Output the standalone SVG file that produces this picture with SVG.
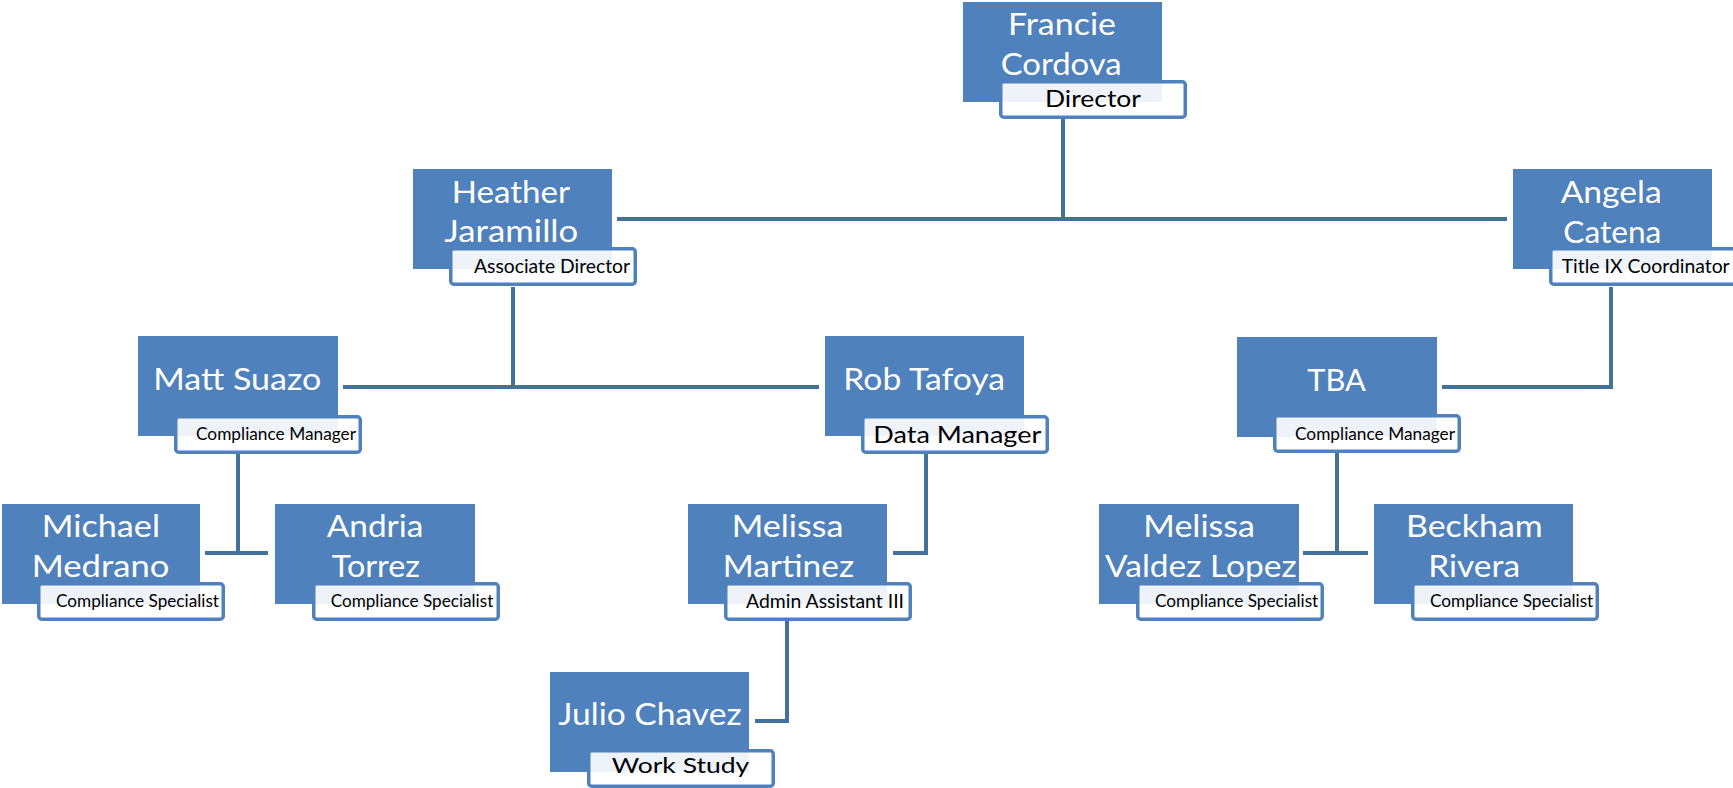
<svg xmlns="http://www.w3.org/2000/svg" width="1733" height="788" viewBox="0 0 1733 788">
<style>
.box{fill:#4F81BD}
.lab{fill:#FFFFFF;fill-opacity:0.9;stroke:#4F81BD;stroke-width:3.5}
.nm{font-family:Lato,"Open Sans",sans-serif;font-size:31.5px;fill:#FFFFFF}
.tt{font-family:Lato,"Open Sans",sans-serif;fill:#000000}
.con{fill:none;stroke:#41719C;stroke-width:4}
</style>
<rect width="1733" height="788" fill="#FFFFFF"/>
<g id="connectors">
<path class="con" d="M1063,119 V219 M617,219 H1507"/>
<path class="con" d="M513,287 V387 M343,387 H819"/>
<path class="con" d="M238,454 V553 M205,553 H268"/>
<path class="con" d="M926,454 V553 H893"/>
<path class="con" d="M787,620 V721 H755"/>
<path class="con" d="M1611,287 V387 H1442"/>
<path class="con" d="M1337,453 V553 M1303,553 H1368"/>
</g>
<g id="francie">
<rect class="box" x="963" y="2" width="199" height="100"/>
<rect class="lab" x="1000.75" y="81.75" width="184.5" height="35.5" rx="3"/>
<text class="nm" x="1008" y="35" textLength="108" lengthAdjust="spacingAndGlyphs">Francie</text>
<text class="nm" x="1000.7" y="75" textLength="121" lengthAdjust="spacingAndGlyphs">Cordova</text>
<text class="tt" x="1045" y="106.7" font-size="23.5" textLength="96" lengthAdjust="spacingAndGlyphs">Director</text>
</g>
<g id="heather">
<rect class="box" x="413" y="169" width="199" height="100"/>
<rect class="lab" x="450.75" y="248.75" width="184.5" height="35.5" rx="3"/>
<text class="nm" x="451.7" y="203.3" textLength="118.3" lengthAdjust="spacingAndGlyphs">Heather</text>
<text class="nm" x="444.3" y="241.7" textLength="134" lengthAdjust="spacingAndGlyphs">Jaramillo</text>
<text class="tt" x="474" y="273.3" font-size="19" textLength="156" lengthAdjust="spacingAndGlyphs">Associate Director</text>
</g>
<g id="angela">
<rect class="box" x="1513" y="169" width="199" height="100"/>
<rect class="lab" x="1550.75" y="248.75" width="184.5" height="35.5" rx="3"/>
<text class="nm" x="1560.7" y="203.3" textLength="101" lengthAdjust="spacingAndGlyphs">Angela</text>
<text class="nm" x="1563.3" y="243.3" textLength="98" lengthAdjust="spacingAndGlyphs">Catena</text>
<text class="tt" x="1561.7" y="273.3" font-size="20" textLength="168" lengthAdjust="spacingAndGlyphs">Title IX Coordinator</text>
</g>
<g id="matt">
<rect class="box" x="138" y="336" width="200" height="100"/>
<rect class="lab" x="175.75" y="416.75" width="184.5" height="35.5" rx="3"/>
<text class="nm" x="153.3" y="390" textLength="168" lengthAdjust="spacingAndGlyphs">Matt Suazo</text>
<text class="tt" x="196" y="440" font-size="16.8" textLength="160" lengthAdjust="spacingAndGlyphs">Compliance Manager</text>
</g>
<g id="rob">
<rect class="box" x="825" y="336" width="199" height="100"/>
<rect class="lab" x="862.75" y="416.75" width="184.5" height="35.5" rx="3"/>
<text class="nm" x="843.3" y="390" textLength="161.7" lengthAdjust="spacingAndGlyphs">Rob Tafoya</text>
<text class="tt" x="873.3" y="442.7" font-size="23.5" textLength="168" lengthAdjust="spacingAndGlyphs">Data Manager</text>
</g>
<g id="tba">
<rect class="box" x="1237" y="337" width="200" height="100"/>
<rect class="lab" x="1274.75" y="415.75" width="184.5" height="35.5" rx="3"/>
<text class="nm" x="1307.3" y="390.7" textLength="58.7" lengthAdjust="spacingAndGlyphs">TBA</text>
<text class="tt" x="1295" y="440" font-size="16.8" textLength="160" lengthAdjust="spacingAndGlyphs">Compliance Manager</text>
</g>
<g id="michael">
<rect class="box" x="2" y="504" width="198" height="100"/>
<rect class="lab" x="38.75" y="583.75" width="184.5" height="35.5" rx="3"/>
<text class="nm" x="41.7" y="536.7" textLength="118.3" lengthAdjust="spacingAndGlyphs">Michael</text>
<text class="nm" x="31.7" y="577" textLength="137.7" lengthAdjust="spacingAndGlyphs">Medrano</text>
<text class="tt" x="56" y="606.7" font-size="16.8" textLength="163" lengthAdjust="spacingAndGlyphs">Compliance Specialist</text>
</g>
<g id="andria">
<rect class="box" x="275" y="504" width="200" height="100"/>
<rect class="lab" x="313.75" y="583.75" width="184.5" height="35.5" rx="3"/>
<text class="nm" x="326.7" y="536.7" textLength="96.7" lengthAdjust="spacingAndGlyphs">Andria</text>
<text class="nm" x="331.7" y="577.3" textLength="88.3" lengthAdjust="spacingAndGlyphs">Torrez</text>
<text class="tt" x="330.7" y="606.7" font-size="16.8" textLength="162.6" lengthAdjust="spacingAndGlyphs">Compliance Specialist</text>
</g>
<g id="melissa-martinez">
<rect class="box" x="688" y="504" width="199" height="100"/>
<rect class="lab" x="725.75" y="583.75" width="184.5" height="35.5" rx="3"/>
<text class="nm" x="731.7" y="536.7" textLength="111.7" lengthAdjust="spacingAndGlyphs">Melissa</text>
<text class="nm" x="722.7" y="577" textLength="131.3" lengthAdjust="spacingAndGlyphs">Martinez</text>
<text class="tt" x="746" y="608.3" font-size="19" textLength="158" lengthAdjust="spacingAndGlyphs">Admin Assistant III</text>
</g>
<g id="melissa-valdez">
<rect class="box" x="1099" y="504" width="200" height="100"/>
<rect class="lab" x="1137.75" y="583.75" width="184.5" height="35.5" rx="3"/>
<text class="nm" x="1143.3" y="536.7" textLength="111.7" lengthAdjust="spacingAndGlyphs">Melissa</text>
<text class="nm" x="1105" y="577" textLength="191.7" lengthAdjust="spacingAndGlyphs">Valdez Lopez</text>
<text class="tt" x="1155" y="606.7" font-size="16.8" textLength="163.3" lengthAdjust="spacingAndGlyphs">Compliance Specialist</text>
</g>
<g id="beckham">
<rect class="box" x="1374" y="504" width="199" height="100"/>
<rect class="lab" x="1412.75" y="583.75" width="184.5" height="35.5" rx="3"/>
<text class="nm" x="1406" y="536.7" textLength="136.7" lengthAdjust="spacingAndGlyphs">Beckham</text>
<text class="nm" x="1428.3" y="577" textLength="91.7" lengthAdjust="spacingAndGlyphs">Rivera</text>
<text class="tt" x="1430" y="606.7" font-size="16.8" textLength="163.3" lengthAdjust="spacingAndGlyphs">Compliance Specialist</text>
</g>
<g id="julio">
<rect class="box" x="550" y="672" width="199" height="100"/>
<rect class="lab" x="588.75" y="750.75" width="184.5" height="35.5" rx="3"/>
<text class="nm" x="558.3" y="725" textLength="183.3" lengthAdjust="spacingAndGlyphs">Julio Chavez</text>
<text class="tt" x="611.7" y="773.3" font-size="22" textLength="137.6" lengthAdjust="spacingAndGlyphs">Work Study</text>
</g>
</svg>
